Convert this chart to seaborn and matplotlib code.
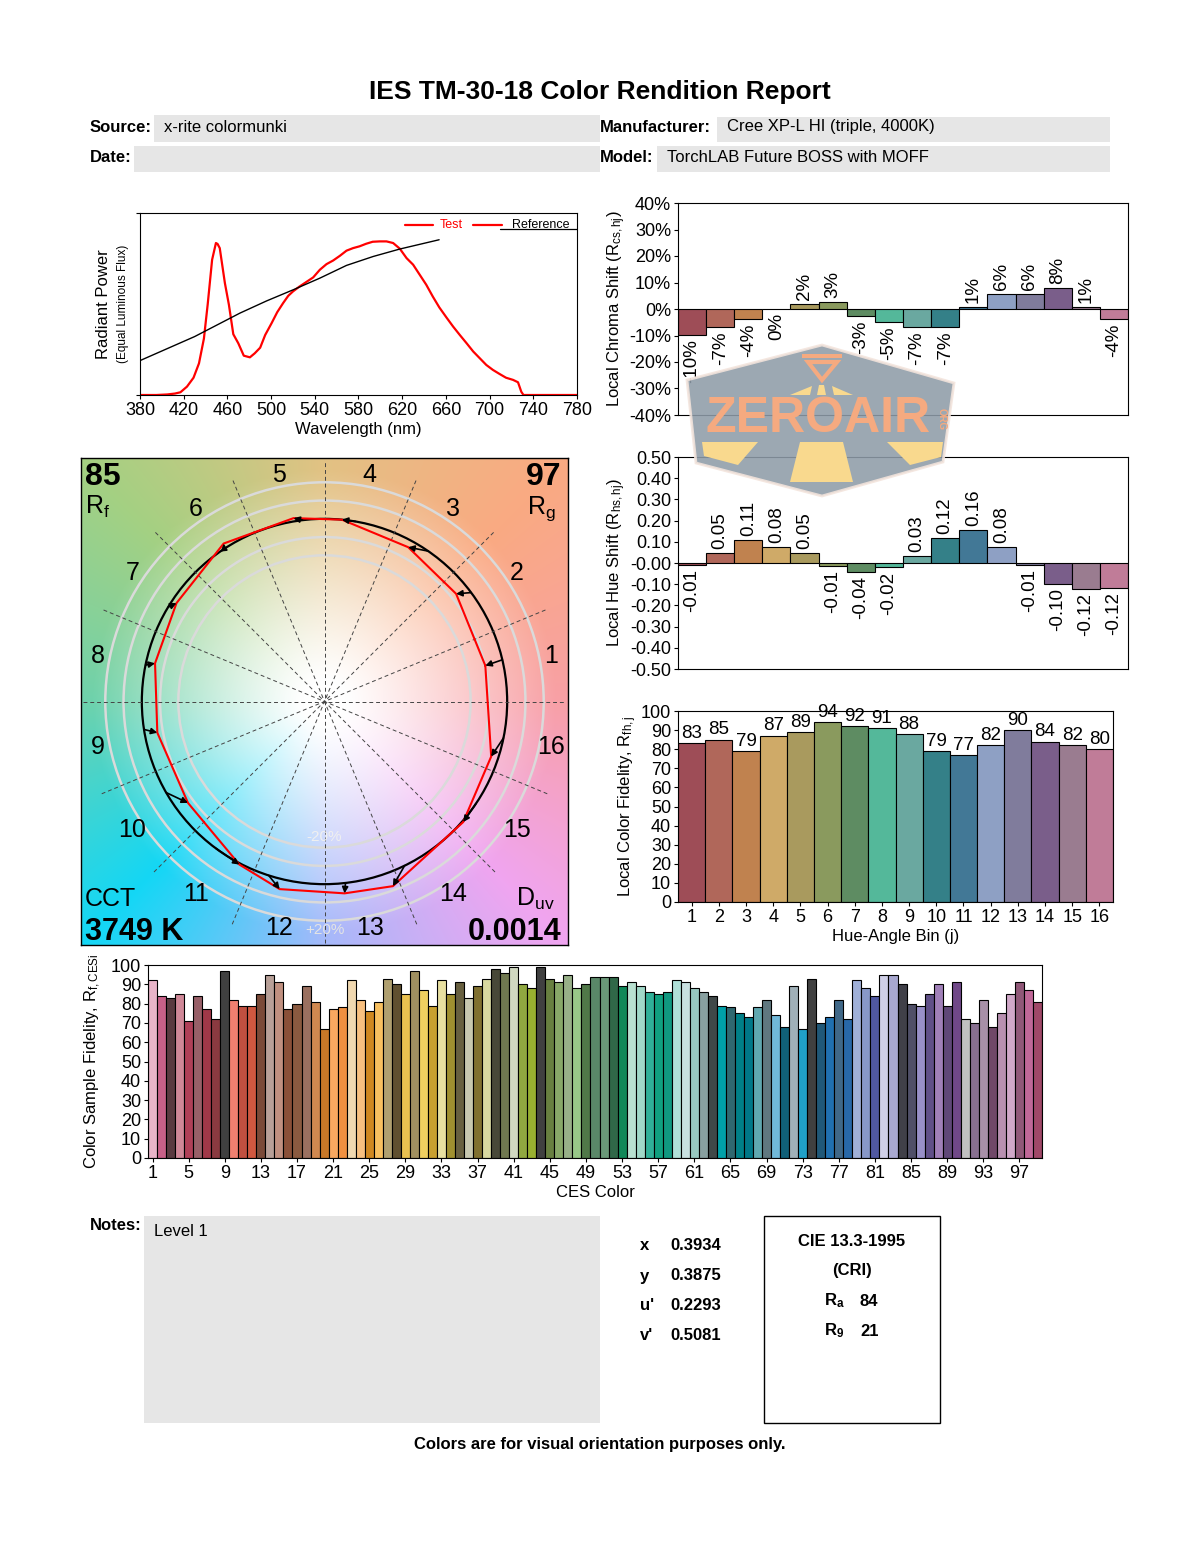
import numpy as np
import pandas as pd
import matplotlib
matplotlib.use("Agg")
import matplotlib.pyplot as plt
from matplotlib.patches import Rectangle, Polygon, Circle
import seaborn as sns

# ---- data ----
bins = list(range(1, 17))
bin_colors = ["#9e4d57", "#b0675a", "#c0824f", "#cfaa68", "#a99a5e", "#8a9a5e",
              "#5e8c62", "#54b89a", "#6aa8a0", "#348088", "#427896", "#8ea0c4",
              "#807c9c", "#7a5e8a", "#9a7c90", "#c07c98"]
chroma_shift = [-0.098, -0.069, -0.039, 0.0, 0.018, 0.026, -0.027, -0.049,
                -0.069, -0.069, 0.007, 0.056, 0.056, 0.078, 0.006, -0.039]
hue_shift = [-0.011, 0.047, 0.107, 0.076, 0.047, -0.013, -0.044, -0.021,
             0.031, 0.117, 0.156, 0.076, -0.011, -0.099, -0.122, -0.118]
hue_fidelity = [83, 85, 79, 87, 89, 94, 92, 91, 88, 79, 77, 82, 90, 84, 82, 80]
ref_hue_deg = [13.2, 36.6, 55.4, 80.2, 96.9, 123.3, 148.9, 168.5,
               188.8, 209.9, 233.5, 252.2, 276.6, 296.0, 326.0, 348.5]

ces_fidelity = [92, 84, 83, 85, 71, 84, 77, 72, 97, 82, 79, 79, 85, 95, 91, 77,
                80, 89, 81, 67, 77, 78, 92, 82, 76, 81, 93, 90, 85, 97, 87, 79,
                92, 85, 91, 83, 89, 93, 98, 96, 99, 90, 88, 99, 93, 91, 95, 88,
                90, 94, 94, 94, 89, 91, 89, 86, 85, 86, 92, 91, 88, 86, 84, 79,
                78, 75, 73, 78, 82, 74, 68, 89, 67, 93, 70, 73, 82, 72, 92, 88,
                84, 95, 95, 90, 80, 79, 85, 90, 79, 91, 72, 70, 82, 68, 75, 85,
                91, 87, 81]
ces_colors = ["#e8b4c8", "#c86088", "#5a3a40", "#d08898", "#b04058", "#986068", "#a03848", "#8a3a40",
              "#404040", "#f08070", "#c05040", "#d05840", "#7a4a38", "#b8a098", "#c09080", "#8a5038",
              "#8a5a40", "#9a7060", "#d08850", "#c87828", "#f8a860", "#f09040", "#f0d8b0", "#f8c080",
              "#d08820", "#f8c060", "#b0a070", "#605030", "#e8c050", "#a09060", "#f0d060", "#c8a030",
              "#e8e0a0", "#a09030", "#686040", "#c8c8b0", "#807030", "#d8d8a0", "#484838", "#707850",
              "#d0d8c0", "#90a840", "#98b030", "#404040", "#688040", "#88a868", "#98b088", "#98c888",
              "#507848", "#5a8868", "#6a9878", "#306848", "#108858", "#b8e0d0", "#a0d8c8", "#30b098",
              "#10a080", "#109880", "#b0e0d8", "#c8e0e0", "#98c8c0", "#88a0a0", "#404848", "#00a0a8",
              "#306870", "#008088", "#007888", "#60a8b0", "#607880", "#70b8d8", "#106078", "#a0b0b8",
              "#20a0c8", "#404040", "#205878", "#2070b0", "#406888", "#2868a8", "#a0b0d8", "#8898c8",
              "#5058a0", "#d0d0e8", "#a8a8d0", "#404048", "#505068", "#9890c8", "#605088", "#a080b8",
              "#604878", "#704888", "#c0c0c0", "#887090", "#a890a8", "#704868", "#b890b0", "#d0a8c8",
              "#905878", "#c06898", "#a04868"]

test_wl = [380, 395, 405, 412, 417, 423, 429, 434, 438.5, 442, 446, 449.5, 451, 453,
           457.7, 461.4, 465.4, 470, 475, 480.6, 485, 490, 494.6, 500.4, 505.6, 511,
           515.7, 520, 526, 532, 538.5, 544.6, 550.7, 556.8, 563, 569, 575, 581, 587,
           593, 599.5, 605.6, 611.7, 617.8, 624, 630, 636, 642, 648, 654, 660.5, 666.6,
           672.7, 679, 685, 691, 697, 703, 709, 715, 721.5, 726, 729, 731, 780]
test_pw = [0, 0, 0.003, 0.008, 0.015, 0.046, 0.095, 0.174, 0.31, 0.50, 0.743, 0.835, 0.83, 0.807,
           0.615, 0.495, 0.334, 0.284, 0.216, 0.207, 0.229, 0.26, 0.33, 0.394, 0.455, 0.505,
           0.545, 0.569, 0.596, 0.62, 0.646, 0.688, 0.719, 0.739, 0.765, 0.793, 0.807, 0.817, 0.831,
           0.842, 0.844, 0.844, 0.835, 0.804, 0.752, 0.716, 0.661, 0.606, 0.541, 0.481, 0.426, 0.376,
           0.33, 0.284, 0.239, 0.202, 0.165, 0.138, 0.116, 0.095, 0.083, 0.07, 0.018, 0, 0]
ref_wl = [380, 430, 471.5, 495.9, 520.2, 544.6, 569, 593.4, 617.8, 653.8]
ref_pw = [0.189, 0.321, 0.45, 0.517, 0.578, 0.642, 0.712, 0.761, 0.802, 0.853]

# background hue wheel for the vector graphic (style only)
bg_angles = [0, 45, 90, 135, 180, 225, 270, 315]
bg_colors = [(248, 160, 166), (250, 170, 130), (226, 194, 132), (165, 208, 130),
             (110, 210, 172), (20, 215, 245), (165, 185, 250), (240, 165, 240)]

sns.set_theme(style="white")
plt.rcParams['font.family'] = ['Liberation Sans', 'DejaVu Sans']
plt.rcParams['mathtext.fontset'] = 'custom'
plt.rcParams['mathtext.rm'] = 'Liberation Sans'
plt.rcParams['mathtext.it'] = 'Liberation Sans:italic'
plt.rcParams['mathtext.bf'] = 'Liberation Sans:bold'
plt.rcParams['axes.edgecolor'] = 'black'
plt.rcParams['axes.linewidth'] = 0.8
for key in ['text.color', 'axes.labelcolor', 'xtick.color', 'ytick.color']:
    plt.rcParams[key] = 'black'

W, H = 1200, 1550
fig = plt.figure(figsize=(12, 15.5), dpi=100)


def fx(x):
    return x / W


def fy(y):
    return 1 - y / H


def frect(l, t, r, b):
    return [l / W, 1 - b / H, (r - l) / W, (b - t) / H]


def ticks(ax):
    ax.tick_params(axis='both', labelsize=13, length=3, width=0.8, color='black',
                   direction='out', bottom=True, left=True, pad=2)


# ---- header ----
fig.text(0.5, fy(92), "IES TM-30-18 Color Rendition Report", ha='center', va='center',
         fontsize=19, fontweight='bold', family=['Liberation Sans Narrow', 'Liberation Sans'])
for l, t, r, b in [(154, 115, 600, 142), (134, 146, 600, 172), (717, 117, 1110, 142), (657, 146, 1110, 172)]:
    fig.add_artist(Rectangle((fx(l), fy(b)), (r - l) / W, (b - t) / H, transform=fig.transFigure,
                             facecolor='#e6e6e6', edgecolor='none', zorder=0))
fig.text(fx(90), fy(127), "Source:", fontsize=12, fontweight='bold', va='center')
fig.text(fx(164), fy(127), "x-rite colormunki", fontsize=12, va='center')
fig.text(fx(90), fy(157), "Date:", fontsize=12, fontweight='bold', va='center')
fig.text(fx(600), fy(127), "Manufacturer:", fontsize=12, fontweight='bold', va='center')
fig.text(fx(727), fy(127), "Cree XP-L HI (triple, 4000K)", fontsize=12, va='center')
fig.text(fx(600), fy(157), "Model:", fontsize=12, fontweight='bold', va='center')
fig.text(fx(667), fy(157), "TorchLAB Future BOSS with MOFF", fontsize=12, va='center')

# ---- spectral power distribution ----
ax = fig.add_axes(frect(140, 213, 577, 395))
sns.lineplot(x=test_wl, y=test_pw, color='red', lw=1.6, sort=False, estimator=None, ax=ax)
sns.lineplot(x=ref_wl, y=ref_pw, color='black', lw=1.0, sort=False, estimator=None, ax=ax)
ax.set_xlim(380, 780)
ax.set_ylim(0, 1)
ax.set_xticks(range(380, 781, 40))
ax.set_yticks([0, 1])
ax.set_yticklabels([])
ticks(ax)
ax.set_xlabel("Wavelength (nm)", fontsize=12, labelpad=2)
fig.text(fx(104), fy(304), "Radiant Power", rotation=90, ha='center', va='center', fontsize=12)
fig.text(fx(123), fy(304), "(Equal Luminous Flux)", rotation=90, ha='center', va='center', fontsize=8.5)
ax.plot([0.606, 0.670], [0.934, 0.934], color='red', lw=1.6, transform=ax.transAxes)
ax.text(0.685, 0.934, "Test", color='red', fontsize=9, va='center', transform=ax.transAxes)
ax.plot([0.762, 0.828], [0.934, 0.934], color='red', lw=1.6, transform=ax.transAxes)
ax.plot([0.824, 1.0], [0.912, 0.912], color='black', lw=0.9, transform=ax.transAxes)
ax.text(0.852, 0.934, "Reference", color='black', fontsize=9, va='center', transform=ax.transAxes)

# ---- color vector graphic ----
axv = fig.add_axes(frect(81, 458, 568, 945))
lim = 1.333
g = np.linspace(-lim, lim, 700)
X, Y = np.meshgrid(g, g)
ang = np.degrees(np.arctan2(Y, X)) % 360
rad = np.hypot(X, Y)
anchors = np.array(bg_angles + [360])
cols = np.array(bg_colors + [bg_colors[0]]) / 255.0
rgb = np.stack([np.interp(ang, anchors, cols[:, k]) for k in range(3)], axis=-1)
s = np.clip((rad - 0.12) / 1.15, 0, 1) ** 1.1
img = 1 - s[..., None] * (1 - rgb)
axv.imshow(img, extent=[-lim, lim, -lim, lim], origin='lower', interpolation='bilinear')
for k in range(8):
    a = np.radians(k * 22.5)
    axv.plot([-1.32 * np.cos(a), 1.32 * np.cos(a)], [-1.32 * np.sin(a), 1.32 * np.sin(a)],
             color='#444444', lw=0.7, ls=(0, (4, 3)))
for f in [0.8, 0.9, 1.1, 1.2]:
    axv.add_patch(Circle((0, 0), f, fill=False, ec='#dadada', lw=1.8))
axv.add_patch(Circle((0, 0), 1.0, fill=False, ec='black', lw=1.6))
ra = np.radians(ref_hue_deg)
ta = ra + np.array(hue_shift)
tr = 1 + np.array(chroma_shift)
tx, ty = tr * np.cos(ta), tr * np.sin(ta)
axv.plot(np.append(tx, tx[0]), np.append(ty, ty[0]), color='red', lw=1.5)
for k in range(16):
    axv.annotate('', xy=(tx[k], ty[k]), xytext=(np.cos(ra[k]), np.sin(ra[k])),
                 arrowprops=dict(arrowstyle='-|>', color='black', lw=1.2, mutation_scale=9,
                                 shrinkA=0, shrinkB=0))
for j in bins:
    a = np.radians((j - 0.5) * 22.5)
    axv.text(1.265 * np.cos(a), 1.265 * np.sin(a), str(j), ha='center', va='center', fontsize=18)
axv.text(0, -1.25, "+20%", color='#e4e4e4', ha='center', va='center', fontsize=11)
axv.text(0, -0.74, "-20%", color='#f0f0f0', ha='center', va='center', fontsize=11)
axv.set_xlim(-lim, lim)
axv.set_ylim(-lim, lim)
axv.set_xticks([])
axv.set_yticks([])
for sp in axv.spines.values():
    sp.set_visible(True)
    sp.set_linewidth(1.0)
T = axv.transAxes
axv.text(0.008, 0.945, "85", transform=T, fontsize=23, fontweight='bold', va='baseline')
axv.text(0.008, 0.886, r"R$_\mathrm{f}$", transform=T, fontsize=18, va='baseline')
axv.text(0.986, 0.945, "97", transform=T, fontsize=23, fontweight='bold', va='baseline', ha='right')
axv.text(0.975, 0.886, r"R$_\mathrm{g}$", transform=T, fontsize=18, va='baseline', ha='right')
axv.text(0.008, 0.080, "CCT", transform=T, fontsize=18, va='baseline')
axv.text(0.008, 0.010, "3749 K", transform=T, fontsize=22, fontweight='bold', va='baseline')
axv.text(0.972, 0.080, r"D$_\mathrm{uv}$", transform=T, fontsize=18, va='baseline', ha='right')
axv.text(0.986, 0.010, "0.0014", transform=T, fontsize=22, fontweight='bold', va='baseline', ha='right')

bin_labels = [str(b) for b in bins]

# ---- local chroma shift ----
axc = fig.add_axes(frect(678, 203, 1128, 415))
sns.barplot(x=bin_labels, y=chroma_shift, hue=bin_labels, palette=bin_colors, legend=False,
            width=1.0, edgecolor='black', linewidth=0.8, saturation=1, ax=axc)
axc.set_xlim(-0.5, 15.5)
axc.set_ylim(-0.4, 0.4)
yt = np.round(np.arange(-0.4, 0.41, 0.1), 2)
axc.set_yticks(yt)
axc.set_yticklabels([f"{round(t * 100)}%" for t in yt])
axc.set_xticks([])
ticks(axc)
axc.set_ylabel(r"Local Chroma Shift (R$_\mathrm{cs,hj}$)", fontsize=12)
axc.yaxis.set_label_coords(-0.11, 0.5)
for i, v in enumerate(chroma_shift):
    lab = f"{round(v * 100)}%"
    if v > 0:
        axc.annotate(lab, (i, v), xytext=(0, 3), textcoords='offset points', rotation=90,
                     ha='center', va='bottom', fontsize=13.5)
    else:
        axc.annotate(lab, (i, v), xytext=(0, -3), textcoords='offset points', rotation=90,
                     ha='center', va='top', fontsize=13.5)

# ---- local hue shift ----
axh = fig.add_axes(frect(678, 457, 1128, 669))
sns.barplot(x=bin_labels, y=hue_shift, hue=bin_labels, palette=bin_colors, legend=False,
            width=1.0, edgecolor='black', linewidth=0.8, saturation=1, ax=axh)
axh.set_xlim(-0.5, 15.5)
axh.set_ylim(-0.5, 0.5)
yt = np.round(np.arange(-0.5, 0.51, 0.1), 2)
axh.set_yticks(yt)
axh.set_yticklabels([f"{t:.2f}" for t in yt])
axh.set_xticks([])
ticks(axh)
axh.set_ylabel(r"Local Hue Shift (R$_\mathrm{hs,hj}$)", fontsize=12)
axh.yaxis.set_label_coords(-0.11, 0.5)
for i, v in enumerate(hue_shift):
    lab = f"{v:.2f}"
    if v > 0:
        axh.annotate(lab, (i, v), xytext=(0, 3), textcoords='offset points', rotation=90,
                     ha='center', va='bottom', fontsize=13.5)
    else:
        axh.annotate(lab, (i, v), xytext=(0, -3), textcoords='offset points', rotation=90,
                     ha='center', va='top', fontsize=13.5)

# ---- local color fidelity ----
axf = fig.add_axes(frect(678, 711, 1113, 902))
sns.barplot(x=bin_labels, y=hue_fidelity, hue=bin_labels, palette=bin_colors, legend=False,
            width=1.0, edgecolor='black', linewidth=0.8, saturation=1, ax=axf)
axf.set_xlim(-0.5, 15.5)
axf.set_ylim(0, 100)
axf.set_yticks(range(0, 101, 10))
ticks(axf)
axf.set_xlabel("Hue-Angle Bin (j)", fontsize=12, labelpad=2)
axf.set_ylabel(r"Local Color Fidelity, R$_\mathrm{fh,j}$", fontsize=12)
axf.yaxis.set_label_coords(-0.09, 0.5)
for i, v in enumerate(hue_fidelity):
    axf.annotate(str(v), (i, v), xytext=(0, 1), textcoords='offset points',
                 ha='center', va='bottom', fontsize=13.5)

# ---- color sample fidelity ----
ces_labels = [str(i) for i in range(1, len(ces_fidelity) + 1)]
axs = fig.add_axes(frect(148, 965, 1042, 1158))
sns.barplot(x=ces_labels, y=ces_fidelity, hue=ces_labels, palette=ces_colors, legend=False,
            width=1.0, edgecolor='black', linewidth=0.8, saturation=1, ax=axs)
axs.set_xlim(-0.5, len(ces_fidelity) - 0.5)
axs.set_ylim(0, 100)
axs.set_yticks(range(0, 101, 10))
axs.set_xticks(range(0, len(ces_fidelity), 4))
axs.set_xticklabels([ces_labels[i] for i in range(0, len(ces_fidelity), 4)])
ticks(axs)
axs.set_xlabel("CES Color", fontsize=12, labelpad=2)
axs.set_ylabel(r"Color Sample Fidelity, R$_\mathrm{f,CESi}$", fontsize=12)
axs.yaxis.set_label_coords(-0.05, 0.5)

# ---- bottom block ----
fig.text(fx(90), fy(1226), "Notes:", fontsize=12, fontweight='bold', va='center')
fig.add_artist(Rectangle((fx(144), fy(1423)), 456 / W, 207 / H, transform=fig.transFigure,
                         facecolor='#e6e6e6', edgecolor='none', zorder=0))
fig.text(fx(154), fy(1231), "Level 1", fontsize=12, va='center')
for yy, lab, val in [(1246, "x", "0.3934"), (1276, "y", "0.3875"), (1306, "u'", "0.2293"), (1336, "v'", "0.5081")]:
    fig.text(fx(640), fy(yy), lab, fontsize=12, fontweight='bold', va='center')
    fig.text(fx(670), fy(yy), val, fontsize=12, fontweight='bold', va='center')
fig.add_artist(Rectangle((fx(764), fy(1423)), 176 / W, 207 / H, transform=fig.transFigure,
                         facecolor='none', edgecolor='black', lw=1.0))
fig.text(fx(852), fy(1241), "CIE 13.3-1995", fontsize=12, fontweight='bold', ha='center', va='center')
fig.text(fx(852), fy(1271), "(CRI)", fontsize=12, fontweight='bold', ha='center', va='center')
fig.text(fx(824), fy(1301), r"$\mathbf{R}_\mathbf{a}$", fontsize=12, va='center')
fig.text(fx(860), fy(1301), "84", fontsize=12, fontweight='bold', va='center')
fig.text(fx(824), fy(1331), r"$\mathbf{R}_\mathbf{9}$", fontsize=12, va='center')
fig.text(fx(860), fy(1331), "21", fontsize=12, fontweight='bold', va='center')
fig.text(0.5, fy(1445), "Colors are for visual orientation purposes only.", fontsize=12,
         fontweight='bold', ha='center', va='center')

# ---- site watermark ----
def poly(pts, **kw):
    fig.add_artist(Polygon([(fx(x), fy(y)) for x, y in pts], closed=True,
                           transform=fig.transFigure, zorder=5, **kw))


poly([(822, 345), (954, 383), (943, 462), (822, 496), (696, 463), (687, 380)],
     facecolor='#8e9ca8', edgecolor='#f3e4dc', lw=2, alpha=0.88)
poly([(702, 442), (758, 442), (738, 465), (704, 456)], facecolor='#f9d98e', edgecolor='none')
poly([(800, 442), (843, 442), (853, 482), (790, 482)], facecolor='#f9d98e', edgecolor='none')
poly([(887, 442), (943, 442), (941, 457), (910, 465)], facecolor='#f9d98e', edgecolor='none')
poly([(790, 395), (812, 386), (810, 395)], facecolor='#f9d98e', edgecolor='none')
poly([(817, 395), (819, 385), (824, 385), (826, 395)], facecolor='#f9d98e', edgecolor='none')
poly([(832, 386), (853, 395), (834, 395)], facecolor='#f9d98e', edgecolor='none')
poly([(802, 354), (842, 354), (842, 358), (802, 358)], facecolor='#f5aa80', edgecolor='none')
poly([(808, 362), (837, 362), (822, 380)], facecolor='none', edgecolor='#f5aa80', lw=3)
fig.text(fx(818), fy(419), "ZEROAIR", color='#f5aa80', fontsize=36, fontweight='heavy',
         ha='center', va='center', zorder=6)
fig.text(fx(942), fy(419), "ORG", color='#f5aa80', fontsize=7, fontweight='bold',
         rotation=-90, ha='center', va='center', zorder=6)

fig.savefig("out.png", dpi=100, facecolor='white')
